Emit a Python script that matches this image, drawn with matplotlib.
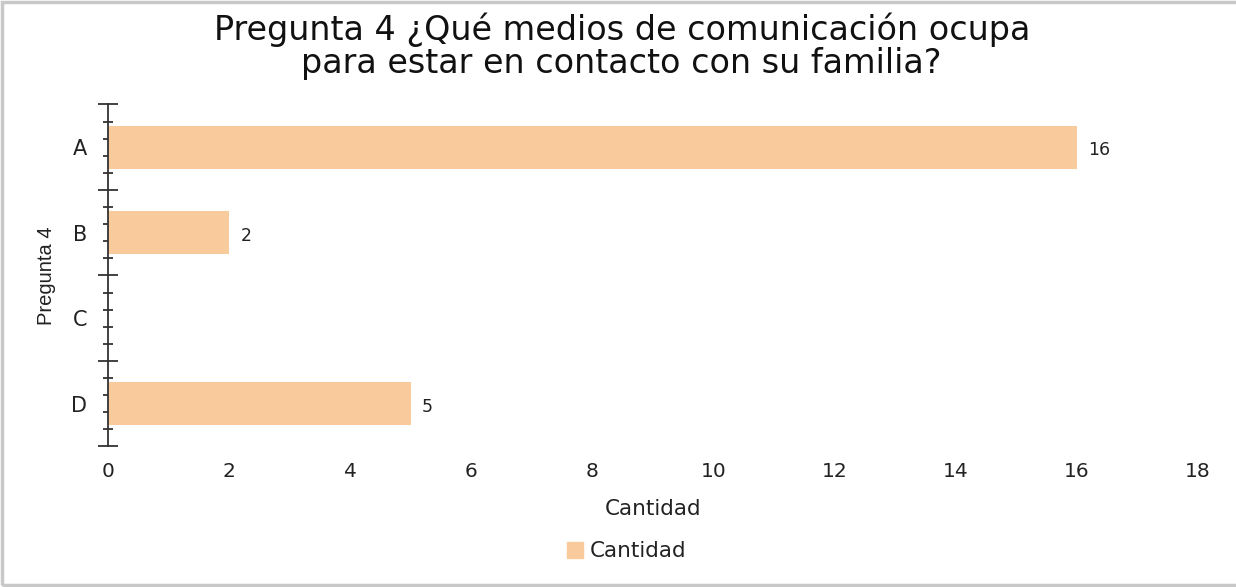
import matplotlib
matplotlib.use('Agg')
import matplotlib.pyplot as plt
from matplotlib.patches import Patch
from matplotlib.ticker import FixedLocator, NullFormatter


# data
categorias = ['A', 'B', 'C', 'D']
cantidad = [16, 2, 0, 5]
xticks = [0, 2, 4, 6, 8, 10, 12, 14, 16, 18]

titulo = 'Pregunta 4 ¿Qué medios de comunicación ocupa\npara estar en contacto con su familia?'
color_barra = '#F9CB9C'
color_texto = '#222222'


def main():
    plt.rcParams['font.family'] = ['DejaVu Sans']

    fig = plt.figure(figsize=(12.36, 5.87), dpi=100)
    ax = fig.add_axes([0.0874, 0.2394, 0.9693 - 0.0874, 0.822 - 0.2394])

    pos = list(range(len(categorias)))
    ax.barh(pos, cantidad, height=0.5, color=color_barra, zorder=2)
    ax.set_ylim(len(categorias) - 0.5, -0.5)
    ax.set_xlim(0, 18)

    # value labels (zero is not shown)
    for p, v in zip(pos, cantidad):
        if v > 0:
            ax.annotate(str(v), xy=(v, p), xytext=(8, -2), textcoords='offset points',
                        va='center', ha='left', fontsize=12.5, color=color_texto)

    # x axis: labels only
    ax.set_xticks(xticks)
    ax.set_xticklabels([str(t) for t in xticks], fontsize=14.5, color=color_texto)
    ax.tick_params(axis='x', length=0, pad=11)
    ax.set_xlabel('Cantidad', fontsize=15.5, color=color_texto, labelpad=13)

    for s in ['top', 'right', 'bottom']:
        ax.spines[s].set_visible(False)
    ax.spines['left'].set_color('#333333')
    ax.spines['left'].set_linewidth(1.3)

    # y axis: category labels at centers, small ticks in between
    ax.set_yticks(pos)
    ax.set_yticklabels(categorias, fontsize=15, color=color_texto)
    ax.tick_params(axis='y', which='major', length=0, pad=15)
    minors = []
    for b in range(len(categorias)):
        for k in (0.2, 0.4, 0.6, 0.8):
            minors.append(b - 0.5 + k)
    ax.yaxis.set_minor_locator(FixedLocator(minors))
    ax.yaxis.set_minor_formatter(NullFormatter())
    ax.tick_params(axis='y', which='minor', direction='inout', length=7,
                   width=1.3, color='#333333')
    ax.set_ylabel('Pregunta 4', fontsize=14.5, color=color_texto, labelpad=11,
                  family='Liberation Sans')

    # long ticks on category boundaries
    sec = ax.secondary_yaxis('left')
    sec.set_yticks([b - 0.5 for b in range(len(categorias) + 1)])
    sec.set_yticklabels([])
    sec.tick_params(direction='inout', length=14, width=1.3, color='#333333')
    sec.spines['left'].set_visible(False)

    fig.text(0.503, 0.978, titulo, ha='center', va='top', fontsize=24,
             color='#111111', linespacing=1.0)

    fig.legend(handles=[Patch(color=color_barra, label='Cantidad')],
               loc='center', bbox_to_anchor=(0.507, 0.061), frameon=False,
               fontsize=15.5, handlelength=0.75, handleheight=0.75,
               handletextpad=0.3, labelcolor=color_texto)

    # thin grey frame around the picture
    frame = plt.Rectangle((0.002, 0.004), 1.1, 0.992, transform=fig.transFigure,
                          fill=False, edgecolor='#C8C8C8', linewidth=2.5)
    fig.patches.append(frame)

    fig.savefig('out.png', dpi=100)
    return


if __name__ == "__main__":
    main()
